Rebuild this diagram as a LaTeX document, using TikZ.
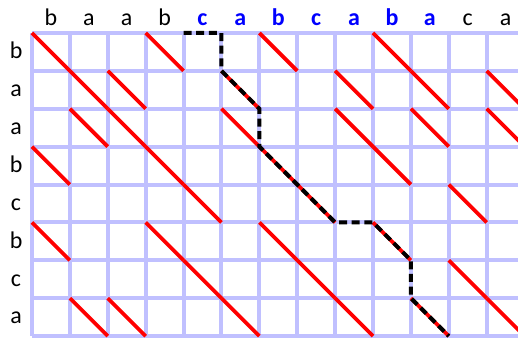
\documentclass[tikz,border=0pt]{standalone}
\usepackage{fontspec}
\setmainfont{Carlito}
\usetikzlibrary{positioning}
\definecolor{rejilla}{HTML}{C0C0FF}

\begin{document}
\begin{tikzpicture}[x=1cm,y=1cm,
  lbl/.style={font=\fontsize{18}{20}\selectfont,inner sep=0pt,anchor=base},
  hl/.style={lbl,text=blue,font=\fontsize{18}{20}\selectfont\bfseries},
  match/.style={red,line width=2.8pt},
  ruta/.style={black,line width=3pt,dash pattern=on 6pt off 3.5pt}]
\useasboundingbox (-0.844,0.87) rectangle (12.826,-8.13);
\clip (-0.844,0.87) rectangle (12.826,-8.13);
% grid
\draw[rejilla,line width=3pt] (0,0) grid (13,-8);
% labels
\foreach \c [count=\i from 0] in {b,a,a,b,c,a,b,c,a,b,a,c,a}{
  \ifnum\i>3 \ifnum\i<11
    \node[hl] (c\i) at (\i+0.5,0.2) {\c};
  \else
    \node[lbl] (c\i) at (\i+0.5,0.2) {\c};
  \fi \else
    \node[lbl] (c\i) at (\i+0.5,0.2) {\c};
  \fi}
\foreach \r [count=\j from 0] in {b,a,a,b,c,b,c,a}
  \node[lbl] (r\j) at (-0.42,-\j-0.68) {\r};
% matches
\foreach \r [count=\j from 0] in {b,a,a,b,c,b,c,a}{
  \foreach \c [count=\i from 0] in {b,a,a,b,c,a,b,c,a,b,a,c,a}{
    \ifx\r\c \draw[match] (\i,-\j) -- (\i+1,-\j-1); \fi}}
% path
\draw[ruta] (4,0) -- (5,0) -- (5,-1) -- (6,-2) -- (6,-3) -- (8,-5)
  -- (9,-5) -- (10,-6) -- (10,-7) -- (11,-8);
\end{tikzpicture}
\end{document}
